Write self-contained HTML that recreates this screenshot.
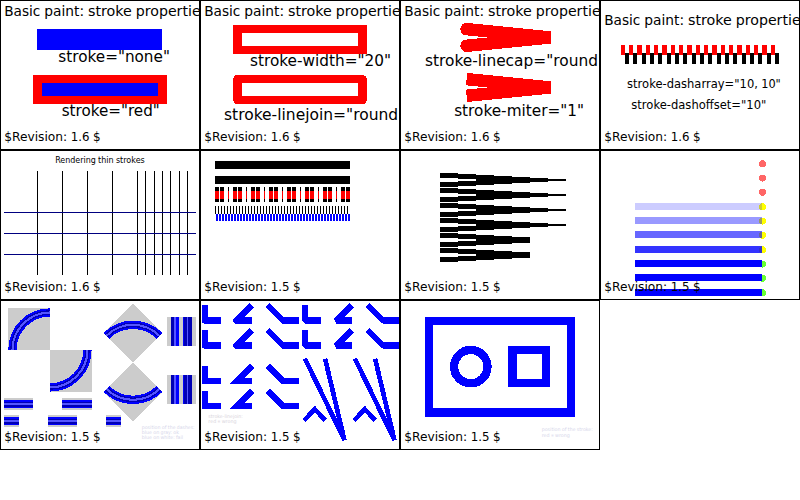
<!DOCTYPE html>
<html><head><meta charset="utf-8"><title>stroke tests</title>
<style>html,body{margin:0;padding:0;background:#fff}svg{display:block}text{font-family:"DejaVu Sans", "Liberation Sans", sans-serif;}</style></head>
<body>
<svg width="800" height="500" viewBox="0 0 800 500">
<svg x="0" y="0" width="200" height="150" viewBox="0 0 200 150" overflow="hidden">
<g transform="translate(-0.04 -0.04) scale(0.416667)" shape-rendering="crispEdges"><rect x="90" y="70" width="300" height="50" fill="#00f"/><rect x="90" y="190" width="300" height="50" fill="#00f" stroke="#f00" stroke-width="20"/></g><text y="16.27" font-size="14.670" fill="#000"><tspan x="4.17" textLength="36.15" lengthAdjust="spacingAndGlyphs">Basic</tspan> <tspan x="44.22" textLength="39.82" lengthAdjust="spacingAndGlyphs">paint:</tspan> <tspan x="87.94" textLength="43.92" lengthAdjust="spacingAndGlyphs">stroke</tspan> <tspan x="135.76" textLength="76.76" lengthAdjust="spacingAndGlyphs">properties.</tspan></text><text y="62.10" font-size="16.300" fill="#000"><tspan x="58.33" textLength="111.57" lengthAdjust="spacingAndGlyphs">stroke=&quot;none&quot;</tspan></text><text y="116.27" font-size="16.300" fill="#000"><tspan x="61.67" textLength="98.07" lengthAdjust="spacingAndGlyphs">stroke=&quot;red&quot;</tspan></text><text y="141.27" font-size="13.040" fill="#000"><tspan x="4.17" textLength="63.03" lengthAdjust="spacingAndGlyphs">$Revision:</tspan> <tspan x="70.67" textLength="18.80" lengthAdjust="spacingAndGlyphs">1.6</tspan> <tspan x="92.92" textLength="7.62" lengthAdjust="spacingAndGlyphs">$</tspan></text>
<rect x="0.5" y="0.5" width="199" height="149" fill="none" stroke="#000" stroke-width="1" shape-rendering="crispEdges"/>
</svg>
<svg x="200" y="0" width="200" height="150" viewBox="0 0 200 150" overflow="hidden">
<g transform="translate(-0.04 -0.04) scale(0.416667)" shape-rendering="crispEdges"><rect x="90" y="70" width="300" height="50" fill="none" stroke="#f00" stroke-width="20"/><rect x="90" y="190" width="300" height="50" fill="none" stroke="#f00" stroke-width="20" stroke-linejoin="round"/></g><text y="16.27" font-size="14.670" fill="#000"><tspan x="4.17" textLength="36.15" lengthAdjust="spacingAndGlyphs">Basic</tspan> <tspan x="44.22" textLength="39.82" lengthAdjust="spacingAndGlyphs">paint:</tspan> <tspan x="87.94" textLength="43.92" lengthAdjust="spacingAndGlyphs">stroke</tspan> <tspan x="135.76" textLength="76.76" lengthAdjust="spacingAndGlyphs">properties.</tspan></text><text y="66.27" font-size="16.300" fill="#000"><tspan x="50.00" textLength="141.02" lengthAdjust="spacingAndGlyphs">stroke-width=&quot;20&quot;</tspan></text><text y="120.00" font-size="16.300" fill="#000"><tspan x="24.00" textLength="181.34" lengthAdjust="spacingAndGlyphs">stroke-linejoin=&quot;round&quot;</tspan></text><text y="141.27" font-size="13.040" fill="#000"><tspan x="4.17" textLength="63.03" lengthAdjust="spacingAndGlyphs">$Revision:</tspan> <tspan x="70.67" textLength="18.80" lengthAdjust="spacingAndGlyphs">1.6</tspan> <tspan x="92.92" textLength="7.62" lengthAdjust="spacingAndGlyphs">$</tspan></text>
<rect x="0.5" y="0.5" width="199" height="149" fill="none" stroke="#000" stroke-width="1" shape-rendering="crispEdges"/>
</svg>
<svg x="400" y="0" width="200" height="150" viewBox="0 0 200 150" overflow="hidden">
<g transform="translate(-0.04 -0.04) scale(0.416667)" shape-rendering="crispEdges"><path d="M160 70L360 90L160 110" fill="none" stroke="#f00" stroke-width="30" stroke-linecap="round"/><path d="M160 190L360 210L160 230" fill="none" stroke="#f00" stroke-width="30" stroke-miterlimit="1"/></g><text y="16.27" font-size="14.670" fill="#000"><tspan x="4.17" textLength="36.15" lengthAdjust="spacingAndGlyphs">Basic</tspan> <tspan x="44.22" textLength="39.82" lengthAdjust="spacingAndGlyphs">paint:</tspan> <tspan x="87.94" textLength="43.92" lengthAdjust="spacingAndGlyphs">stroke</tspan> <tspan x="135.76" textLength="76.76" lengthAdjust="spacingAndGlyphs">properties.</tspan></text><text y="66.27" font-size="16.300" fill="#000"><tspan x="25.00" textLength="180.03" lengthAdjust="spacingAndGlyphs">stroke-linecap=&quot;round&quot;</tspan></text><text y="116.27" font-size="16.300" fill="#000"><tspan x="54.17" textLength="129.89" lengthAdjust="spacingAndGlyphs">stroke-miter=&quot;1&quot;</tspan></text><text y="141.27" font-size="13.040" fill="#000"><tspan x="4.17" textLength="63.03" lengthAdjust="spacingAndGlyphs">$Revision:</tspan> <tspan x="70.67" textLength="18.80" lengthAdjust="spacingAndGlyphs">1.6</tspan> <tspan x="92.92" textLength="7.62" lengthAdjust="spacingAndGlyphs">$</tspan></text>
<rect x="0.5" y="0.5" width="199" height="149" fill="none" stroke="#000" stroke-width="1" shape-rendering="crispEdges"/>
</svg>
<svg x="600" y="0" width="200" height="150" viewBox="0 0 200 150" overflow="hidden">
<g transform="translate(-0.04 -0.04) scale(0.416667)" shape-rendering="crispEdges"><path d="M60 140H430" fill="none" stroke="#000" stroke-width="25" stroke-dasharray="10 10"/><path d="M40 120H420" fill="none" stroke="#f00" stroke-width="25" stroke-dasharray="10 10" stroke-dashoffset="10"/></g><text y="24.60" font-size="14.670" fill="#000"><tspan x="4.17" textLength="36.15" lengthAdjust="spacingAndGlyphs">Basic</tspan> <tspan x="44.22" textLength="39.82" lengthAdjust="spacingAndGlyphs">paint:</tspan> <tspan x="87.94" textLength="43.92" lengthAdjust="spacingAndGlyphs">stroke</tspan> <tspan x="135.76" textLength="76.76" lengthAdjust="spacingAndGlyphs">properties.</tspan></text><text y="88.00" font-size="12.225" fill="#000"><tspan x="27.10" textLength="130.80" lengthAdjust="spacingAndGlyphs">stroke-dasharray=&quot;10,</tspan> <tspan x="161.20" textLength="19.60" lengthAdjust="spacingAndGlyphs">10&quot;</tspan></text><text y="108.60" font-size="12.225" fill="#000"><tspan x="31.30" textLength="135.08" lengthAdjust="spacingAndGlyphs">stroke-dashoffset=&quot;10&quot;</tspan></text><text y="141.27" font-size="13.040" fill="#000"><tspan x="4.17" textLength="63.03" lengthAdjust="spacingAndGlyphs">$Revision:</tspan> <tspan x="70.67" textLength="18.80" lengthAdjust="spacingAndGlyphs">1.6</tspan> <tspan x="92.92" textLength="7.62" lengthAdjust="spacingAndGlyphs">$</tspan></text>
<rect x="0.5" y="0.5" width="199" height="149" fill="none" stroke="#000" stroke-width="1" shape-rendering="crispEdges"/>
</svg>
<svg x="0" y="150" width="200" height="150" viewBox="0 0 200 150" overflow="hidden">
<g shape-rendering="crispEdges"><rect x="37" y="21" width="1" height="104" fill="#000"/><rect x="62" y="21" width="1" height="104" fill="#000"/><rect x="87" y="21" width="1" height="104" fill="#000"/><rect x="112" y="21" width="1" height="104" fill="#000"/><rect x="137" y="21" width="1" height="104" fill="#000"/><rect x="145" y="21" width="1" height="104" fill="#000"/><rect x="154" y="21" width="1" height="104" fill="#000"/><rect x="162" y="21" width="1" height="104" fill="#000"/><rect x="170" y="21" width="1" height="104" fill="#000"/><rect x="179" y="21" width="1" height="104" fill="#000"/><rect x="187" y="21" width="1" height="104" fill="#000"/><rect x="4" y="62" width="192" height="1" fill="#000080"/><rect x="4" y="83" width="192" height="1" fill="#000080"/><rect x="4" y="104" width="192" height="1" fill="#000080"/></g><text y="13.20" font-size="8.150" fill="#000"><tspan x="55.17" textLength="40.71" lengthAdjust="spacingAndGlyphs">Rendering</tspan> <tspan x="98.09" textLength="15.58" lengthAdjust="spacingAndGlyphs">thin</tspan> <tspan x="115.88" textLength="28.94" lengthAdjust="spacingAndGlyphs">strokes</tspan></text><text y="141.27" font-size="13.040" fill="#000"><tspan x="4.17" textLength="63.03" lengthAdjust="spacingAndGlyphs">$Revision:</tspan> <tspan x="70.67" textLength="18.80" lengthAdjust="spacingAndGlyphs">1.6</tspan> <tspan x="92.92" textLength="7.62" lengthAdjust="spacingAndGlyphs">$</tspan></text>
<rect x="0.5" y="0.5" width="199" height="149" fill="none" stroke="#000" stroke-width="1" shape-rendering="crispEdges"/>
</svg>
<svg x="200" y="150" width="200" height="150" viewBox="0 0 200 150" overflow="hidden">
<g shape-rendering="crispEdges"><rect x="15" y="11" width="135" height="8" fill="#000"/><rect x="15" y="26" width="135" height="8" fill="#000"/><rect x="15" y="37" width="4" height="15" fill="#000"/><rect x="15" y="41" width="4" height="8" fill="#f00"/><rect x="20" y="37" width="4" height="15" fill="#000"/><rect x="20" y="41" width="4" height="8" fill="#f00"/><rect x="28" y="37" width="1" height="15" fill="#000"/><rect x="28" y="41" width="1" height="8" fill="#f00"/><rect x="33" y="37" width="4" height="15" fill="#000"/><rect x="33" y="41" width="4" height="8" fill="#f00"/><rect x="38" y="37" width="4" height="15" fill="#000"/><rect x="38" y="41" width="4" height="8" fill="#f00"/><rect x="46" y="37" width="1" height="15" fill="#000"/><rect x="46" y="41" width="1" height="8" fill="#f00"/><rect x="51" y="37" width="4" height="15" fill="#000"/><rect x="51" y="41" width="4" height="8" fill="#f00"/><rect x="56" y="37" width="4" height="15" fill="#000"/><rect x="56" y="41" width="4" height="8" fill="#f00"/><rect x="64" y="37" width="1" height="15" fill="#000"/><rect x="64" y="41" width="1" height="8" fill="#f00"/><rect x="69" y="37" width="4" height="15" fill="#000"/><rect x="69" y="41" width="4" height="8" fill="#f00"/><rect x="74" y="37" width="4" height="15" fill="#000"/><rect x="74" y="41" width="4" height="8" fill="#f00"/><rect x="82" y="37" width="1" height="15" fill="#000"/><rect x="82" y="41" width="1" height="8" fill="#f00"/><rect x="87" y="37" width="4" height="15" fill="#000"/><rect x="87" y="41" width="4" height="8" fill="#f00"/><rect x="92" y="37" width="4" height="15" fill="#000"/><rect x="92" y="41" width="4" height="8" fill="#f00"/><rect x="100" y="37" width="1" height="15" fill="#000"/><rect x="100" y="41" width="1" height="8" fill="#f00"/><rect x="105" y="37" width="4" height="15" fill="#000"/><rect x="105" y="41" width="4" height="8" fill="#f00"/><rect x="110" y="37" width="4" height="15" fill="#000"/><rect x="110" y="41" width="4" height="8" fill="#f00"/><rect x="118" y="37" width="1" height="15" fill="#000"/><rect x="118" y="41" width="1" height="8" fill="#f00"/><rect x="123" y="37" width="4" height="15" fill="#000"/><rect x="123" y="41" width="4" height="8" fill="#f00"/><rect x="128" y="37" width="4" height="15" fill="#000"/><rect x="128" y="41" width="4" height="8" fill="#f00"/><rect x="136" y="37" width="1" height="15" fill="#000"/><rect x="136" y="41" width="1" height="8" fill="#f00"/><rect x="141" y="37" width="4" height="15" fill="#000"/><rect x="141" y="41" width="4" height="8" fill="#f00"/><rect x="146" y="37" width="4" height="15" fill="#000"/><rect x="146" y="41" width="4" height="8" fill="#f00"/><rect x="15" y="56" width="1" height="8" fill="#000"/><rect x="16" y="64" width="2" height="7" fill="#00f"/><rect x="18" y="56" width="1" height="8" fill="#000"/><rect x="19" y="64" width="2" height="7" fill="#00f"/><rect x="21" y="56" width="1" height="8" fill="#000"/><rect x="22" y="64" width="2" height="7" fill="#00f"/><rect x="24" y="56" width="1" height="8" fill="#000"/><rect x="25" y="64" width="2" height="7" fill="#00f"/><rect x="27" y="56" width="1" height="8" fill="#000"/><rect x="28" y="64" width="2" height="7" fill="#00f"/><rect x="30" y="56" width="1" height="8" fill="#000"/><rect x="31" y="64" width="2" height="7" fill="#00f"/><rect x="33" y="56" width="1" height="8" fill="#000"/><rect x="34" y="64" width="2" height="7" fill="#00f"/><rect x="36" y="56" width="1" height="8" fill="#000"/><rect x="37" y="64" width="2" height="7" fill="#00f"/><rect x="39" y="56" width="1" height="8" fill="#000"/><rect x="40" y="64" width="2" height="7" fill="#00f"/><rect x="42" y="56" width="1" height="8" fill="#000"/><rect x="43" y="64" width="2" height="7" fill="#00f"/><rect x="45" y="56" width="1" height="8" fill="#000"/><rect x="46" y="64" width="2" height="7" fill="#00f"/><rect x="48" y="56" width="1" height="8" fill="#000"/><rect x="49" y="64" width="2" height="7" fill="#00f"/><rect x="51" y="56" width="1" height="8" fill="#000"/><rect x="52" y="64" width="2" height="7" fill="#00f"/><rect x="54" y="56" width="1" height="8" fill="#000"/><rect x="55" y="64" width="2" height="7" fill="#00f"/><rect x="57" y="56" width="1" height="8" fill="#000"/><rect x="58" y="64" width="2" height="7" fill="#00f"/><rect x="60" y="56" width="1" height="8" fill="#000"/><rect x="61" y="64" width="2" height="7" fill="#00f"/><rect x="63" y="56" width="1" height="8" fill="#000"/><rect x="64" y="64" width="2" height="7" fill="#00f"/><rect x="66" y="56" width="1" height="8" fill="#000"/><rect x="67" y="64" width="2" height="7" fill="#00f"/><rect x="69" y="56" width="1" height="8" fill="#000"/><rect x="70" y="64" width="2" height="7" fill="#00f"/><rect x="72" y="56" width="1" height="8" fill="#000"/><rect x="73" y="64" width="2" height="7" fill="#00f"/><rect x="75" y="56" width="1" height="8" fill="#000"/><rect x="76" y="64" width="2" height="7" fill="#00f"/><rect x="78" y="56" width="1" height="8" fill="#000"/><rect x="79" y="64" width="2" height="7" fill="#00f"/><rect x="81" y="56" width="1" height="8" fill="#000"/><rect x="82" y="64" width="2" height="7" fill="#00f"/><rect x="84" y="56" width="1" height="8" fill="#000"/><rect x="85" y="64" width="2" height="7" fill="#00f"/><rect x="87" y="56" width="1" height="8" fill="#000"/><rect x="88" y="64" width="2" height="7" fill="#00f"/><rect x="90" y="56" width="1" height="8" fill="#000"/><rect x="91" y="64" width="2" height="7" fill="#00f"/><rect x="93" y="56" width="1" height="8" fill="#000"/><rect x="94" y="64" width="2" height="7" fill="#00f"/><rect x="96" y="56" width="1" height="8" fill="#000"/><rect x="97" y="64" width="2" height="7" fill="#00f"/><rect x="99" y="56" width="1" height="8" fill="#000"/><rect x="100" y="64" width="2" height="7" fill="#00f"/><rect x="102" y="56" width="1" height="8" fill="#000"/><rect x="103" y="64" width="2" height="7" fill="#00f"/><rect x="105" y="56" width="1" height="8" fill="#000"/><rect x="106" y="64" width="2" height="7" fill="#00f"/><rect x="108" y="56" width="1" height="8" fill="#000"/><rect x="109" y="64" width="2" height="7" fill="#00f"/><rect x="111" y="56" width="1" height="8" fill="#000"/><rect x="112" y="64" width="2" height="7" fill="#00f"/><rect x="114" y="56" width="1" height="8" fill="#000"/><rect x="115" y="64" width="2" height="7" fill="#00f"/><rect x="117" y="56" width="1" height="8" fill="#000"/><rect x="118" y="64" width="2" height="7" fill="#00f"/><rect x="120" y="56" width="1" height="8" fill="#000"/><rect x="121" y="64" width="2" height="7" fill="#00f"/><rect x="123" y="56" width="1" height="8" fill="#000"/><rect x="124" y="64" width="2" height="7" fill="#00f"/><rect x="126" y="56" width="1" height="8" fill="#000"/><rect x="127" y="64" width="2" height="7" fill="#00f"/><rect x="129" y="56" width="1" height="8" fill="#000"/><rect x="130" y="64" width="2" height="7" fill="#00f"/><rect x="132" y="56" width="1" height="8" fill="#000"/><rect x="133" y="64" width="2" height="7" fill="#00f"/><rect x="135" y="56" width="1" height="8" fill="#000"/><rect x="136" y="64" width="2" height="7" fill="#00f"/><rect x="138" y="56" width="1" height="8" fill="#000"/><rect x="139" y="64" width="2" height="7" fill="#00f"/><rect x="141" y="56" width="1" height="8" fill="#000"/><rect x="142" y="64" width="2" height="7" fill="#00f"/><rect x="144" y="56" width="1" height="8" fill="#000"/><rect x="145" y="64" width="2" height="7" fill="#00f"/><rect x="147" y="56" width="1" height="8" fill="#000"/><rect x="148" y="64" width="2" height="7" fill="#00f"/></g><text y="141.27" font-size="13.040" fill="#000"><tspan x="4.17" textLength="63.03" lengthAdjust="spacingAndGlyphs">$Revision:</tspan> <tspan x="70.67" textLength="18.80" lengthAdjust="spacingAndGlyphs">1.5</tspan> <tspan x="92.92" textLength="7.62" lengthAdjust="spacingAndGlyphs">$</tspan></text>
<rect x="0.5" y="0.5" width="199" height="149" fill="none" stroke="#000" stroke-width="1" shape-rendering="crispEdges"/>
</svg>
<svg x="400" y="150" width="200" height="150" viewBox="0 0 200 150" overflow="hidden">
<g shape-rendering="crispEdges" fill="#000"><rect x="40" y="23" width="18" height="5"/><rect x="40" y="32" width="18" height="5"/><rect x="58" y="24" width="18" height="5"/><rect x="58" y="31" width="18" height="5"/><rect x="76" y="25" width="18" height="10"/><rect x="94" y="26" width="18" height="8"/><rect x="112" y="27" width="18" height="6"/><rect x="130" y="28" width="18" height="4"/><rect x="148" y="29" width="18" height="2"/><rect x="40" y="38" width="18" height="5"/><rect x="40" y="47" width="18" height="5"/><rect x="58" y="39" width="18" height="5"/><rect x="58" y="46" width="18" height="5"/><rect x="76" y="40" width="18" height="10"/><rect x="94" y="41" width="18" height="8"/><rect x="112" y="42" width="18" height="6"/><rect x="130" y="43" width="18" height="4"/><rect x="148" y="44" width="18" height="2"/><rect x="40" y="53" width="18" height="5"/><rect x="40" y="62" width="18" height="5"/><rect x="58" y="54" width="18" height="5"/><rect x="58" y="61" width="18" height="5"/><rect x="76" y="55" width="18" height="10"/><rect x="94" y="56" width="18" height="8"/><rect x="112" y="57" width="18" height="6"/><rect x="130" y="58" width="18" height="4"/><rect x="148" y="59" width="18" height="2"/><rect x="40" y="68" width="18" height="5"/><rect x="40" y="77" width="18" height="5"/><rect x="58" y="69" width="18" height="5"/><rect x="58" y="76" width="18" height="5"/><rect x="76" y="70" width="18" height="10"/><rect x="94" y="71" width="18" height="8"/><rect x="112" y="72" width="18" height="6"/><rect x="130" y="73" width="18" height="4"/><rect x="148" y="74" width="18" height="2"/><rect x="40" y="83" width="18" height="5"/><rect x="40" y="92" width="18" height="5"/><rect x="58" y="84" width="18" height="5"/><rect x="58" y="91" width="18" height="5"/><rect x="76" y="85" width="18" height="10"/><rect x="94" y="86" width="18" height="8"/><rect x="112" y="87" width="18" height="6"/><rect x="40" y="98" width="18" height="5"/><rect x="40" y="107" width="18" height="5"/><rect x="58" y="99" width="18" height="5"/><rect x="58" y="106" width="18" height="5"/><rect x="76" y="100" width="18" height="10"/><rect x="94" y="101" width="18" height="8"/><rect x="112" y="102" width="18" height="6"/></g><text y="141.27" font-size="13.040" fill="#000"><tspan x="4.17" textLength="63.03" lengthAdjust="spacingAndGlyphs">$Revision:</tspan> <tspan x="70.67" textLength="18.80" lengthAdjust="spacingAndGlyphs">1.5</tspan> <tspan x="92.92" textLength="7.62" lengthAdjust="spacingAndGlyphs">$</tspan></text>
<rect x="0.5" y="0.5" width="199" height="149" fill="none" stroke="#000" stroke-width="1" shape-rendering="crispEdges"/>
</svg>
<svg x="600" y="150" width="200" height="150" viewBox="0 0 200 150" overflow="hidden">
<g shape-rendering="crispEdges"><circle cx="162.5" cy="13.75" r="3.5" fill="#f00" fill-opacity="0.6"/><circle cx="162.5" cy="28.08" r="3.5" fill="#f00" fill-opacity="0.6"/><circle cx="162.5" cy="42.42" r="3.5" fill="#f00" fill-opacity="0.6"/><circle cx="162.5" cy="56.75" r="3.5" fill="#ff0" fill-opacity="1"/><circle cx="162.5" cy="71.08" r="3.5" fill="#ff0" fill-opacity="1"/><circle cx="162.5" cy="85.42" r="3.5" fill="#ff0" fill-opacity="1"/><circle cx="162.5" cy="99.75" r="3.5" fill="#ff0" fill-opacity="1"/><circle cx="162.5" cy="114.08" r="3.5" fill="#6f3" fill-opacity="1"/><circle cx="162.5" cy="128.41" r="3.5" fill="#6f3" fill-opacity="1"/><circle cx="162.5" cy="142.75" r="3.5" fill="#6f3" fill-opacity="1"/><rect x="35" y="52.80" width="127" height="7" fill="#00f" fill-opacity="0.2"/><rect x="35" y="67.13" width="127" height="7" fill="#00f" fill-opacity="0.4"/><rect x="35" y="81.47" width="127" height="7" fill="#00f" fill-opacity="0.6"/><rect x="35" y="95.80" width="127" height="7" fill="#00f" fill-opacity="0.8"/><rect x="35" y="110.13" width="127" height="7" fill="#00f" fill-opacity="1"/><rect x="35" y="124.46" width="127" height="7" fill="#00f" fill-opacity="1"/><rect x="35" y="138.80" width="127" height="7" fill="#00f" fill-opacity="1"/></g><text y="141.27" font-size="13.040" fill="#000"><tspan x="4.17" textLength="63.03" lengthAdjust="spacingAndGlyphs">$Revision:</tspan> <tspan x="70.67" textLength="18.80" lengthAdjust="spacingAndGlyphs">1.5</tspan> <tspan x="92.92" textLength="7.62" lengthAdjust="spacingAndGlyphs">$</tspan></text>
<rect x="0.5" y="0.5" width="199" height="149" fill="none" stroke="#000" stroke-width="1" shape-rendering="crispEdges"/>
</svg>
<svg x="0" y="300" width="200" height="150" viewBox="0 0 200 150" overflow="hidden">
<g transform="translate(-0.04 -0.04) scale(0.416667)" shape-rendering="crispEdges"><rect x="20" y="20" width="100" height="100" fill="#ccc"/><rect x="120" y="120" width="100" height="100" fill="#ccc"/><path d="M30 120A90 90 0 0 1 120 30" fill="none" stroke="#00f" stroke-width="20"/><path d="M210 120A90 90 0 0 1 120 210" fill="none" stroke="#00f" stroke-width="20"/><path d="M30 120A90 90 0 0 1 120 30" fill="none" stroke="#0000b4" stroke-width="11"/><path d="M210 120A90 90 0 0 1 120 210" fill="none" stroke="#0000b4" stroke-width="11"/><path d="M30 120A90 90 0 0 1 120 30" fill="none" stroke="#55f" stroke-width="5"/><path d="M210 120A90 90 0 0 1 120 210" fill="none" stroke="#55f" stroke-width="5"/><g transform="translate(319.20 149.76) rotate(45) translate(-120 -120)"><rect x="20" y="20" width="100" height="100" fill="#ccc"/><rect x="120" y="120" width="100" height="100" fill="#ccc"/><path d="M30 120A90 90 0 0 1 120 30" fill="none" stroke="#00f" stroke-width="20"/><path d="M210 120A90 90 0 0 1 120 210" fill="none" stroke="#00f" stroke-width="20"/><path d="M30 120A90 90 0 0 1 120 30" fill="none" stroke="#0000b4" stroke-width="11"/><path d="M210 120A90 90 0 0 1 120 210" fill="none" stroke="#0000b4" stroke-width="11"/><path d="M30 120A90 90 0 0 1 120 30" fill="none" stroke="#55f" stroke-width="5"/><path d="M210 120A90 90 0 0 1 120 210" fill="none" stroke="#55f" stroke-width="5"/></g></g><g shape-rendering="crispEdges"><rect x="167" y="17" width="29" height="29" fill="#ccc"/><rect x="171" y="17" width="3" height="29" fill="#0000b4"/><rect x="174" y="17" width="2" height="29" fill="#55f"/><rect x="176" y="17" width="3" height="29" fill="#00f"/><rect x="183" y="17" width="1" height="29" fill="#00f"/><rect x="184" y="17" width="3" height="29" fill="#0000b4"/><rect x="187" y="17" width="1" height="29" fill="#55f"/><rect x="188" y="17" width="4" height="29" fill="#0000b4"/><rect x="167" y="75" width="29" height="29" fill="#ccc"/><rect x="171" y="75" width="3" height="29" fill="#0000b4"/><rect x="174" y="75" width="2" height="29" fill="#55f"/><rect x="176" y="75" width="3" height="29" fill="#00f"/><rect x="183" y="75" width="1" height="29" fill="#00f"/><rect x="184" y="75" width="3" height="29" fill="#0000b4"/><rect x="187" y="75" width="1" height="29" fill="#55f"/><rect x="188" y="75" width="4" height="29" fill="#0000b4"/><rect x="4" y="98" width="29" height="12" fill="#ccc"/><rect x="4" y="100" width="29" height="8" fill="#00f"/><rect x="4" y="102" width="29" height="5" fill="#0000b4"/><rect x="4" y="103" width="29" height="2" fill="#55f"/><rect x="62" y="98" width="30" height="12" fill="#ccc"/><rect x="62" y="100" width="30" height="8" fill="#00f"/><rect x="62" y="102" width="30" height="5" fill="#0000b4"/><rect x="62" y="103" width="30" height="2" fill="#55f"/><rect x="4" y="115" width="15" height="12" fill="#ccc"/><rect x="4" y="117" width="15" height="8" fill="#00f"/><rect x="4" y="119" width="15" height="5" fill="#0000b4"/><rect x="4" y="120" width="15" height="2" fill="#55f"/><rect x="48" y="115" width="29" height="12" fill="#ccc"/><rect x="48" y="117" width="29" height="8" fill="#00f"/><rect x="48" y="119" width="29" height="5" fill="#0000b4"/><rect x="48" y="120" width="29" height="2" fill="#55f"/><rect x="106" y="115" width="15" height="12" fill="#ccc"/><rect x="106" y="117" width="15" height="8" fill="#00f"/><rect x="106" y="119" width="15" height="5" fill="#0000b4"/><rect x="106" y="120" width="15" height="2" fill="#55f"/></g><text y="129.20" font-size="4.890" fill="#d6d6ea"><tspan x="141.70" textLength="18.85" lengthAdjust="spacingAndGlyphs">position</tspan> <tspan x="161.85" textLength="4.71" lengthAdjust="spacingAndGlyphs">of</tspan> <tspan x="167.86" textLength="7.64" lengthAdjust="spacingAndGlyphs">the</tspan> <tspan x="176.80" textLength="17.82" lengthAdjust="spacingAndGlyphs">dashes:</tspan></text><text y="134.20" font-size="4.890" fill="#d6d6ea"><tspan x="141.70" textLength="10.20" lengthAdjust="spacingAndGlyphs">blue</tspan> <tspan x="153.20" textLength="6.09" lengthAdjust="spacingAndGlyphs">on</tspan> <tspan x="160.59" textLength="11.44" lengthAdjust="spacingAndGlyphs">gray:</tspan> <tspan x="173.33" textLength="5.64" lengthAdjust="spacingAndGlyphs">ok</tspan></text><text y="139.20" font-size="4.890" fill="#d6d6ea"><tspan x="141.70" textLength="10.20" lengthAdjust="spacingAndGlyphs">blue</tspan> <tspan x="153.20" textLength="6.09" lengthAdjust="spacingAndGlyphs">on</tspan> <tspan x="160.59" textLength="14.12" lengthAdjust="spacingAndGlyphs">white:</tspan> <tspan x="176.01" textLength="7.00" lengthAdjust="spacingAndGlyphs">fail</tspan></text><text y="141.27" font-size="13.040" fill="#000"><tspan x="4.17" textLength="63.03" lengthAdjust="spacingAndGlyphs">$Revision:</tspan> <tspan x="70.67" textLength="18.80" lengthAdjust="spacingAndGlyphs">1.5</tspan> <tspan x="92.92" textLength="7.62" lengthAdjust="spacingAndGlyphs">$</tspan></text>
<rect x="0.5" y="0.5" width="199" height="149" fill="none" stroke="#000" stroke-width="1" shape-rendering="crispEdges"/>
</svg>
<svg x="200" y="300" width="200" height="150" viewBox="0 0 200 150" overflow="hidden">
<g shape-rendering="crispEdges" fill="none" stroke="#00f"><path d="M5 5.0v15.6h15.6" stroke-width="6.25" stroke-linejoin="round" stroke-miterlimit="10"/><path d="M51.85 5.0l-15.6 15.6h15.6" stroke-width="6.25" stroke-linejoin="round" stroke-miterlimit="10"/><path d="M67.5 5.0l15.6 15.6h15.6" stroke-width="6.25" stroke-linejoin="round" stroke-miterlimit="10"/><path d="M5 30.0v15.6h15.6" stroke-width="6.25" stroke-linejoin="round" stroke-miterlimit="10"/><path d="M51.85 30.0l-15.6 15.6h15.6" stroke-width="6.25" stroke-linejoin="round" stroke-miterlimit="10"/><path d="M67.5 30.0l15.6 15.6h15.6" stroke-width="6.25" stroke-linejoin="round" stroke-miterlimit="10"/><path d="M5 65.8v15.0h15.6" stroke-width="6.25" stroke-linejoin="miter" stroke-miterlimit="10"/><path d="M51.85 65.8l-15.0 15.0h15.0" stroke-width="6.25" stroke-linejoin="miter" stroke-miterlimit="10"/><path d="M67.5 65.8l15.6 15.0h15.6" stroke-width="6.25" stroke-linejoin="miter" stroke-miterlimit="10"/><path d="M5 90.8v15.0h15.6" stroke-width="6.25" stroke-linejoin="miter" stroke-miterlimit="10"/><path d="M51.85 90.8l-15.0 15.0h15.0" stroke-width="6.25" stroke-linejoin="miter" stroke-miterlimit="10"/><path d="M67.5 90.8l15.6 15.0h15.6" stroke-width="6.25" stroke-linejoin="miter" stroke-miterlimit="10"/><path d="M105 5.0v15.6h15.6" stroke-width="6.25" stroke-linejoin="bevel" stroke-miterlimit="10"/><path d="M151.85 5.0l-15.6 15.6h15.6" stroke-width="6.25" stroke-linejoin="bevel" stroke-miterlimit="10"/><path d="M167.5 5.0l15.6 15.6h15.6" stroke-width="6.25" stroke-linejoin="bevel" stroke-miterlimit="10"/><path d="M105 30.0v15.6h15.6" stroke-width="6.25" stroke-linejoin="bevel" stroke-miterlimit="10"/><path d="M151.85 30.0l-15.6 15.6h15.6" stroke-width="6.25" stroke-linejoin="bevel" stroke-miterlimit="10"/><path d="M167.5 30.0l15.6 15.6h15.6" stroke-width="6.25" stroke-linejoin="bevel" stroke-miterlimit="10"/><path d="M105 58.75L144.4 140L125.1 58.75" stroke-width="4.7" stroke-linejoin="bevel"/><path d="M104.2 120.5L114.7 109L125.25 120.5" stroke-width="4.6" stroke-linejoin="miter"/><path d="M155 58.75L194.4 140L175.1 58.75" stroke-width="4.7" stroke-linejoin="bevel"/><path d="M154.2 120.5L164.7 109L175.25 120.5" stroke-width="4.6" stroke-linejoin="miter"/></g><text y="118.30" font-size="4.890" fill="#d8d4dc"><tspan x="8.33" textLength="34.60" lengthAdjust="spacingAndGlyphs">stroke-linejoin:</tspan></text><text y="122.50" font-size="4.890" fill="#d8d4dc"><tspan x="8.33" textLength="7.91" lengthAdjust="spacingAndGlyphs">red</tspan> <tspan x="17.54" textLength="2.86" lengthAdjust="spacingAndGlyphs">=</tspan> <tspan x="21.70" textLength="14.76" lengthAdjust="spacingAndGlyphs">wrong</tspan></text><text y="141.27" font-size="13.040" fill="#000"><tspan x="4.17" textLength="63.03" lengthAdjust="spacingAndGlyphs">$Revision:</tspan> <tspan x="70.67" textLength="18.80" lengthAdjust="spacingAndGlyphs">1.5</tspan> <tspan x="92.92" textLength="7.62" lengthAdjust="spacingAndGlyphs">$</tspan></text>
<rect x="0.5" y="0.5" width="199" height="149" fill="none" stroke="#000" stroke-width="1" shape-rendering="crispEdges"/>
</svg>
<svg x="400" y="300" width="200" height="150" viewBox="0 0 200 150" overflow="hidden">
<g transform="translate(-0.04 -0.04) scale(0.416667)" shape-rendering="crispEdges"><rect x="70" y="50" width="340" height="220" fill="none" stroke="#00f" stroke-width="20"/><circle cx="170" cy="160" r="40" fill="none" stroke="#00f" stroke-width="20"/><rect x="270" y="120" width="80" height="80" fill="none" stroke="#00f" stroke-width="20"/></g><text y="131.20" font-size="4.890" fill="#d6d6ea"><tspan x="141.70" textLength="18.85" lengthAdjust="spacingAndGlyphs">position</tspan> <tspan x="161.85" textLength="4.71" lengthAdjust="spacingAndGlyphs">of</tspan> <tspan x="167.86" textLength="7.64" lengthAdjust="spacingAndGlyphs">the</tspan> <tspan x="176.80" textLength="15.97" lengthAdjust="spacingAndGlyphs">stroke:</tspan></text><text y="137.00" font-size="4.890" fill="#d6d6ea"><tspan x="141.70" textLength="7.91" lengthAdjust="spacingAndGlyphs">red</tspan> <tspan x="150.91" textLength="2.86" lengthAdjust="spacingAndGlyphs">=</tspan> <tspan x="155.07" textLength="14.76" lengthAdjust="spacingAndGlyphs">wrong</tspan></text><text y="141.27" font-size="13.040" fill="#000"><tspan x="4.17" textLength="63.03" lengthAdjust="spacingAndGlyphs">$Revision:</tspan> <tspan x="70.67" textLength="18.80" lengthAdjust="spacingAndGlyphs">1.5</tspan> <tspan x="92.92" textLength="7.62" lengthAdjust="spacingAndGlyphs">$</tspan></text>
<rect x="0.5" y="0.5" width="199" height="149" fill="none" stroke="#000" stroke-width="1" shape-rendering="crispEdges"/>
</svg>
</svg>
</body></html>
